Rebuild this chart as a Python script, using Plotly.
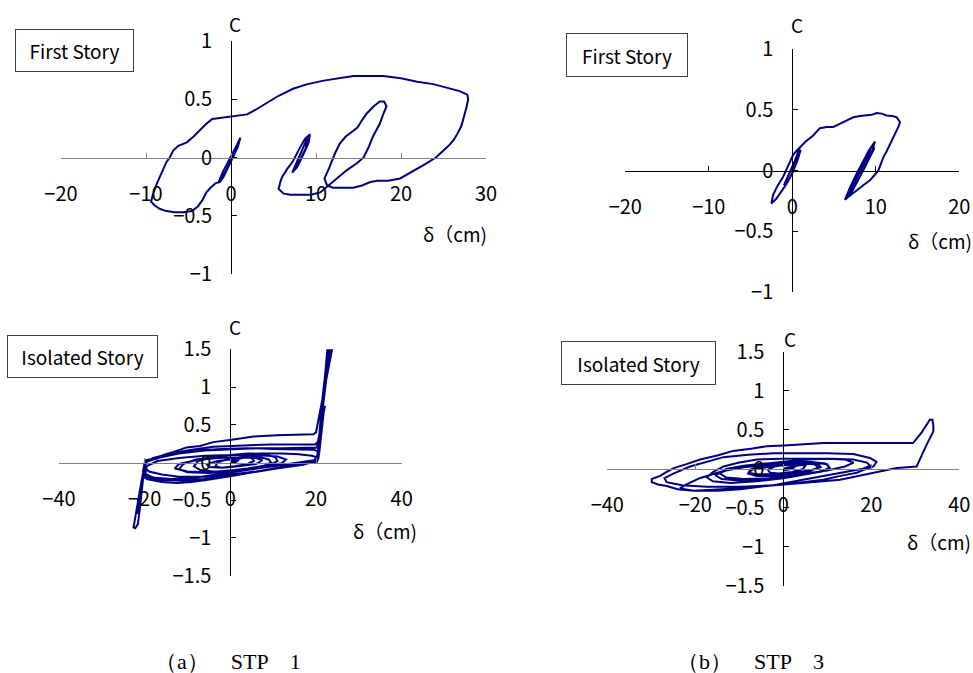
import plotly.graph_objects as go

# ---------------- data (delta in cm, C = shear coefficient) ----------------
stp1_first_story = [
    (0, 0), (0.6, 0.1), (1.1, 0.17), (0.8, 0.09), (0.2, 0.0), (-0.5, -0.1), (-1.2, -0.19), (-1.5, -0.22),
    (-1.0, -0.13), (-0.3, -0.03), (0.4, 0.07), (1.0, 0.15), (0.6, 0.06), (-0.2, -0.06), (-0.9, -0.17), (-1.3, -0.21),
    (-1.8, -0.22), (-2.4, -0.26), (-2.9, -0.30), (-3.4, -0.37), (-3.9, -0.42), (-4.6, -0.46), (-5.6, -0.47),
    (-6.6, -0.47), (-7.6, -0.46), (-8.4, -0.44), (-9.0, -0.41), (-9.4, -0.38), (-9.2, -0.32), (-8.7, -0.22),
    (-8.1, -0.12), (-7.6, -0.04), (-7.2, 0.0), (-6.8, 0.06), (-6.2, 0.10), (-5.2, 0.13), (-4.4, 0.18),
    (-3.5, 0.25), (-2.9, 0.29), (-2.2, 0.33), (-1.0, 0.34), (-0.1, 0.35), (1.0, 0.36), (1.9, 0.37),
    (2.9, 0.41), (4.2, 0.47), (5.6, 0.53), (7.3, 0.59), (9.0, 0.63), (10.9, 0.66), (12.6, 0.68), (14.4, 0.70),
    (16.2, 0.70), (17.9, 0.70), (20.0, 0.68), (21.9, 0.65), (23.8, 0.63), (25.5, 0.60), (26.9, 0.57),
    (27.8, 0.54), (27.9, 0.50), (27.7, 0.43), (27.4, 0.35), (27.1, 0.27), (26.6, 0.20), (26.2, 0.15),
    (25.6, 0.10), (25.0, 0.06), (24.1, 0.0), (23.0, -0.05), (21.8, -0.10), (20.8, -0.14), (19.9, -0.18),
    (18.5, -0.20), (17.2, -0.20), (16.4, -0.21), (15.4, -0.24), (14.4, -0.26), (13.0, -0.26), (12.0, -0.26),
    (11.3, -0.24), (11.0, -0.18), (11.6, -0.08), (12.2, 0.03), (12.8, 0.12), (13.5, 0.18), (14.4, 0.23),
    (14.9, 0.26), (15.5, 0.33), (16.0, 0.38), (16.8, 0.44), (17.5, 0.48), (18.0, 0.48), (18.3, 0.44),
    (17.9, 0.37), (17.5, 0.29), (16.7, 0.18), (16.2, 0.09), (15.6, 0.0), (14.8, -0.05), (13.6, -0.11),
    (12.8, -0.16), (12.0, -0.21), (11.2, -0.26), (10.5, -0.30), (9.4, -0.32), (8.1, -0.32), (7.0, -0.32),
    (6.2, -0.31), (5.6, -0.27), (5.8, -0.21), (6.0, -0.17), (6.6, -0.10), (7.3, -0.03), (8.0, 0.07),
    (8.7, 0.16), (9.3, 0.20), (9.1, 0.12), (8.4, 0.01), (7.8, -0.08), (7.2, -0.13), (7.6, -0.06),
    (8.3, 0.06), (9.0, 0.17), (8.8, 0.08), (8.0, -0.05), (7.6, -0.10),
]

stp3_first_story = [
    (0, 0), (0.5, 0.1), (1.0, 0.17), (0.6, 0.08), (0.0, -0.02), (-0.6, -0.10), (-1.2, -0.16), (-1.9, -0.23),
    (-2.5, -0.27), (-2.3, -0.20), (-1.8, -0.13), (-1.1, -0.05), (-0.5, 0.04), (0.1, 0.13), (0.6, 0.17),
    (0.9, 0.19), (0.4, 0.09), (-0.3, -0.02), (-1.0, -0.12), (-0.4, -0.03), (0.3, 0.08), (0.9, 0.19),
    (1.6, 0.24), (2.5, 0.29), (3.3, 0.35), (4.1, 0.36), (4.9, 0.36), (5.5, 0.38), (6.1, 0.40), (6.7, 0.42),
    (7.3, 0.44), (8.1, 0.45), (8.9, 0.455), (9.5, 0.46), (10.1, 0.475), (10.7, 0.47), (11.3, 0.455),
    (12.0, 0.45), (12.5, 0.44), (12.9, 0.40), (12.7, 0.36), (12.5, 0.33), (12.1, 0.27), (11.7, 0.22),
    (11.3, 0.16), (10.9, 0.11), (10.6, 0.05), (10.3, 0.0), (9.8, -0.04), (9.3, -0.08), (8.5, -0.12),
    (7.7, -0.16), (7.0, -0.20), (6.3, -0.24), (6.9, -0.14), (7.6, -0.04), (8.4, 0.07), (9.2, 0.17),
    (9.9, 0.24), (9.5, 0.14), (8.7, 0.03), (7.9, -0.08), (7.1, -0.18), (6.5, -0.22), (7.2, -0.12),
    (8.0, -0.01), (8.8, 0.10), (9.6, 0.21), (9.8, 0.18), (9.0, 0.07), (8.2, -0.04), (7.4, -0.14),
    (6.7, -0.20), (7.5, -0.09), (8.5, 0.05), (9.4, 0.17), (9.0, 0.10), (8.2, 0.0),
]

stp1_isolated_story = [
    (0, 0), (1.5, 0.04), (3.5, 0.07), (5, 0.06), (5.5, 0.02), (4, -0.02), (1, -0.05), (-2, -0.07),
    (-3.5, -0.05), (-3, 0.0), (-1, 0.04), (2, 0.07), (4.5, 0.08), (7, 0.07), (9, 0.04), (9.5, 0.0),
    (8, -0.04), (4, -0.08), (0, -0.11), (-4, -0.12), (-7, -0.10), (-8.5, -0.05), (-7.5, 0.02), (-4, 0.07),
    (0, 0.10), (4, 0.12), (8, 0.11), (10.5, 0.07), (11, 0.02), (9, -0.04), (5, -0.08), (0, -0.12),
    (-5, -0.14), (-10, -0.13), (-12, -0.09), (-11, -0.02), (-8, 0.04), (-3, 0.08), (2, 0.11), (7, 0.12),
    (12, 0.12), (16, 0.11), (19, 0.09), (20.2, 0.07), (20, 0.02), (17, -0.03), (12, -0.07), (6, -0.12),
    (0, -0.16), (-6, -0.19), (-12, -0.19), (-16, -0.16), (-19, -0.12), (-20, -0.06), (-19.6, 0.01),
    (-17, 0.06), (-13, 0.12), (-8, 0.16), (-2, 0.18), (4, 0.19), (10, 0.18), (15, 0.17), (19.5, 0.17),
    (20.3, 0.15), (20.6, 0.06), (20.2, 0.01), (17, -0.02), (12, -0.06), (6, -0.12), (0, -0.18), (-6, -0.22),
    (-12, -0.24), (-17, -0.23), (-20, -0.2), (-20.4, -0.12), (-20.0, 0.0), (-18, 0.06), (-14, 0.12),
    (-9, 0.17), (-4, 0.21), (0.3, 0.22), (5, 0.23), (9.3, 0.24), (14, 0.24), (19.8, 0.24), (20.4, 0.27),
    (21.3, 0.5), (22.1, 0.75), (21.9, 0.72), (21.1, 0.35), (20.7, 0.1), (20.3, 0.03), (18, -0.01),
    (14, -0.04), (9.3, -0.09), (4, -0.14), (0.3, -0.18), (-3, -0.21), (-6.3, -0.24), (-11.8, -0.24),
    (-16, -0.22), (-19.5, -0.19), (-20.4, -0.14), (-20.9, -0.3), (-21.5, -0.55), (-21.8, -0.68),
    (-21.4, -0.6), (-20.8, -0.32), (-20.2, -0.06), (-19.9, 0.02), (-17.2, 0.05), (-15.6, 0.1),
    (-13.3, 0.14), (-10.2, 0.2), (-7.1, 0.22), (-4, 0.27), (0.3, 0.3), (5.4, 0.345), (10.8, 0.36),
    (15, 0.37), (19.4, 0.375), (20.0, 0.40), (21.0, 0.7), (22.0, 1.0), (23.0, 1.3), (24.1, 1.6),
    (23.6, 1.6), (22.6, 1.25), (21.6, 0.85), (20.9, 0.45), (20.5, 0.15), (20.0, 0.03), (17.8, 0.0),
    (14, -0.04), (9.3, -0.09), (5, -0.13), (0.3, -0.18), (-3, -0.21), (-6.3, -0.24), (-9, -0.26),
    (-12.5, -0.27), (-16, -0.26), (-19.5, -0.22), (-20.4, -0.16), (-20.9, -0.3), (-21.6, -0.55),
    (-22.6, -0.86), (-22.2, -0.87), (-21.6, -0.82), (-21.1, -0.6), (-20.6, -0.3), (-20.1, -0.05),
    (-19.9, 0.03), (-17, 0.06), (-12, 0.12), (-6, 0.16), (0, 0.18), (6, 0.19), (12, 0.19), (17, 0.19),
    (20.2, 0.2), (20.8, 0.35), (21.8, 0.8), (22.6, 1.2), (23.2, 1.6), (22.8, 1.6), (22.1, 1.15),
    (21.3, 0.75), (20.7, 0.3), (20.4, 0.08), (19.5, 0.03), (16, 0.0), (10, -0.05), (4, -0.1), (-2, -0.15),
    (-8, -0.2), (-14, -0.22), (-18, -0.2), (-19.8, -0.15), (-19.6, -0.05), (-17, 0.02), (-12, 0.06),
    (-6, 0.09), (0, 0.1), (6, 0.1), (11, 0.08), (13, 0.04), (12, -0.01), (7, -0.06), (1, -0.1), (-5, -0.13),
    (-10, -0.12), (-13, -0.08), (-12, -0.02), (-8, 0.03), (-3, 0.06), (2, 0.07), (6, 0.06), (7.5, 0.03),
    (6, -0.02), (2, -0.05), (-2, -0.07), (-5, -0.06), (-5.5, -0.02), (-3, 0.02), (0, 0.04), (2, 0.03), (1, 0.0),
]

stp3_isolated_story = [
    (0, 0), (2, 0.03), (4, 0.05), (5, 0.04), (4.5, 0.0), (2, -0.04), (-1, -0.06), (-3, -0.05), (-3.5, -0.01),
    (-2, 0.03), (1, 0.06), (4, 0.07), (7, 0.06), (8, 0.02), (6, -0.03), (2, -0.07), (-2, -0.09), (-6, -0.09),
    (-8, -0.06), (-7.5, -0.01), (-5, 0.04), (-1, 0.07), (3, 0.08), (7, 0.08), (10, 0.06), (10.5, 0.01),
    (8, -0.04), (3, -0.09), (-3, -0.12), (-9, -0.13), (-13, -0.11), (-14.4, -0.06), (-13, 0.0), (-9, 0.04),
    (-4, 0.07), (1, 0.09), (6, 0.09), (9.5, 0.07), (10.5, 0.02), (9, -0.03), (5, -0.07), (0, -0.12),
    (-6, -0.16), (-12, -0.18), (-16, -0.16), (-17.4, -0.11), (-16, -0.04), (-13.6, 0.03), (-10, 0.08),
    (-6, 0.12), (0, 0.13), (5.3, 0.13), (11, 0.13), (15.9, 0.12), (19, 0.08), (19.7, 0.04), (18, 0.0),
    (15.9, -0.02), (12, -0.06), (9, -0.09), (4, -0.14), (-2.3, -0.21), (-10, -0.23), (-17.4, -0.23),
    (-23, -0.21), (-26.5, -0.17), (-27, -0.12), (-25, -0.06), (-21.2, 0.03), (-17, 0.1), (-13.6, 0.15),
    (-8, 0.18), (-2.3, 0.2), (5, 0.2), (10, 0.2), (15.9, 0.19), (19.7, 0.14), (21.2, 0.09), (20.5, 0.03),
    (18, -0.02), (16.7, -0.05), (13, -0.09), (9.1, -0.14), (3, -0.18), (-2.3, -0.21), (-8, -0.24),
    (-14, -0.26), (-20.4, -0.28), (-24, -0.26), (-26.5, -0.22), (-28.5, -0.2), (-29.9, -0.17),
    (-29.9, -0.13), (-28, -0.09), (-26.5, -0.04), (-24.9, 0.01), (-22, 0.06), (-18.9, 0.12), (-15, 0.17),
    (-11.4, 0.23), (-7, 0.26), (-3.8, 0.29), (0.2, 0.30), (4, 0.31), (9.1, 0.33), (15, 0.33), (22, 0.33),
    (29.5, 0.33), (31.5, 0.47), (33.3, 0.63), (33.9, 0.63), (34.1, 0.55), (34.1, 0.48), (32.5, 0.3),
    (30.3, 0.03), (28, 0.02), (25.8, 0.01), (23, -0.02), (20.5, -0.05), (16, -0.1), (12.9, -0.14),
    (9, -0.16), (5.3, -0.18), (0.2, -0.20), (-4, -0.22), (-9.8, -0.26), (-15, -0.28), (-20.4, -0.28),
    (-23.5, -0.25), (-22, -0.2), (-19, -0.12), (-15, -0.05), (-10, 0.02), (-5, 0.06), (0, 0.09), (5, 0.12),
    (10, 0.13), (14, 0.12), (16, 0.08), (14, 0.03), (10, -0.02), (5, -0.06), (0, -0.1), (-5, -0.13),
    (-10, -0.15), (-14, -0.13), (-15.5, -0.08), (-13, -0.02), (-9, 0.02), (-4, 0.05), (1, 0.07), (5, 0.08),
    (8, 0.06), (8.5, 0.02), (6, -0.02), (2, -0.05), (-2, -0.07), (-6, -0.07), (-8, -0.05), (-7, -0.01),
    (-3, 0.03), (1, 0.05), (3, 0.04), (2, 0.0), (0, -0.02),
]

x_ticks_a_top = [-20, -10, 0, 10, 20, 30]
x_ticks_b_top = [-20, -10, 0, 10, 20]
x_ticks_bottom = [-40, -20, 0, 20, 40]
y_ticks_top = [-1, -0.5, 0, 0.5, 1]
y_ticks_bottom = [-1.5, -1, -0.5, 0, 0.5, 1, 1.5]

story_labels = ["First Story", "First Story", "Isolated Story", "Isolated Story"]
axis_title_y = "C"
axis_title_x = "δ（cm)"
captions = ["（a）\u3000STP\u30001", "（b）\u3000STP\u30003"]

# ---------------- layout helpers ----------------
W, H = 973, 673
FONT = "Noto Sans CJK JP, Noto Sans, sans-serif"
LINE = "#000080"

panels = [
    dict(data=stp1_first_story, xr=[-20, 30], yr=[-1, 1], xt=x_ticks_a_top, yt=y_ticks_top,
         px=(61, 486), py=(41, 274), xcol="#808080", ycol="#000000",
         box=(74.5, 50.5, 117, 41), C=(235, 24), d=(421, 233)),
    dict(data=stp3_first_story, xr=[-20, 20], yr=[-1, 1], xt=x_ticks_b_top, yt=y_ticks_top,
         px=(625.3, 959.3), py=(49.3, 292), xcol="#000000", ycol="#000000",
         box=(626.5, 55.3, 120, 42), C=(796.7, 25), d=(906, 240)),
    dict(data=stp1_isolated_story, xr=[-40, 40], yr=[-1.5, 1.5], xt=x_ticks_bottom, yt=y_ticks_bottom,
         px=(59, 401.7), py=(349.3, 575.7), xcol="#808080", ycol="#000000",
         box=(82.3, 356, 149, 41), C=(235, 326), d=(351, 530)),
    dict(data=stp3_isolated_story, xr=[-40, 40], yr=[-1.5, 1.5], xt=x_ticks_bottom, yt=y_ticks_bottom,
         px=(607.3, 959.3), py=(351.7, 586), xcol="#808080", ycol="#000000",
         box=(638.7, 362.8, 153, 42), C=(790, 338.3), d=(905, 541.7)),
]
caption_left = [153, 675]
caption_y = 661

fig = go.Figure()
annotations = []
layout = dict(
    width=W, height=H, autosize=False,
    margin=dict(l=0, r=0, t=0, b=0, pad=0, autoexpand=False),
    paper_bgcolor="white", plot_bgcolor="rgba(0,0,0,0)", showlegend=False,
    font=dict(family=FONT, size=20, color="black"),
)

for i, p in enumerate(panels):
    n = "" if i == 0 else str(i + 1)
    xs = [pt[0] for pt in p["data"]]
    ys = [pt[1] for pt in p["data"]]
    fig.add_trace(go.Scatter(x=xs, y=ys, mode="lines", xaxis="x" + n, yaxis="y" + n,
                             line=dict(color=LINE, width=2), hoverinfo="skip"))
    dx = [p["px"][0] / W, p["px"][1] / W]
    dy = [1 - p["py"][1] / H, 1 - p["py"][0] / H]
    # position of the crossing axes at the data origin
    ypos_of_xaxis = dy[0] + (0 - p["yr"][0]) / (p["yr"][1] - p["yr"][0]) * (dy[1] - dy[0])
    xpos_of_yaxis = dx[0] + (0 - p["xr"][0]) / (p["xr"][1] - p["xr"][0]) * (dx[1] - dx[0])
    layout["xaxis" + n] = dict(
        domain=dx, range=p["xr"], anchor="free", position=ypos_of_xaxis, automargin=False,
        showgrid=False, zeroline=False, showline=True, linecolor=p["xcol"], linewidth=1,
        ticks="inside", ticklen=5, tickwidth=1, tickcolor=p["xcol"],
        tickvals=p["xt"], ticklabelstandoff=18, tickfont=dict(family=FONT, size=20, color="black"),
        fixedrange=True,
    )
    layout["yaxis" + n] = dict(
        domain=dy, range=p["yr"], anchor="free", position=xpos_of_yaxis, automargin=False,
        showgrid=False, zeroline=False, showline=True, linecolor=p["ycol"], linewidth=1,
        ticks="inside", ticklen=5, tickwidth=1, tickcolor=p["ycol"],
        tickvals=p["yt"], ticklabelstandoff=15, tickfont=dict(family=FONT, size=20, color="black"),
        fixedrange=True,
    )
    bx, by, bw, bh = p["box"]
    annotations.append(dict(
        text=story_labels[i], x=bx / W, y=1 - by / H, xref="paper", yref="paper",
        xanchor="center", yanchor="middle", showarrow=False, width=bw, height=bh,
        bordercolor="#404040", borderwidth=1, borderpad=0, bgcolor="white",
        font=dict(family=FONT, size=19, color="black"),
    ))
    annotations.append(dict(
        text=axis_title_y, x=p["C"][0] / W, y=1 - p["C"][1] / H, xref="paper", yref="paper",
        xanchor="center", yanchor="middle", showarrow=False,
        font=dict(family=FONT, size=19, color="black"),
    ))
    annotations.append(dict(
        text=axis_title_x, x=p["d"][0] / W, y=1 - p["d"][1] / H, xref="paper", yref="paper",
        xanchor="left", yanchor="middle", showarrow=False,
        font=dict(family=FONT, size=19, color="black"),
    ))

for cap, cx in zip(captions, caption_left):
    annotations.append(dict(
        text=cap, x=cx / W, y=1 - caption_y / H, xref="paper", yref="paper",
        xanchor="left", yanchor="middle", showarrow=False,
        font=dict(family="Liberation Serif, serif", size=22, color="black"),
    ))

layout["annotations"] = annotations
fig.update_layout(**layout)
# the page's default 8px body margin would push the 973x673 figure off the window
fig.write_html("out.html", config={"displayModeBar": False},
               post_script="document.body.style.margin='0';")
